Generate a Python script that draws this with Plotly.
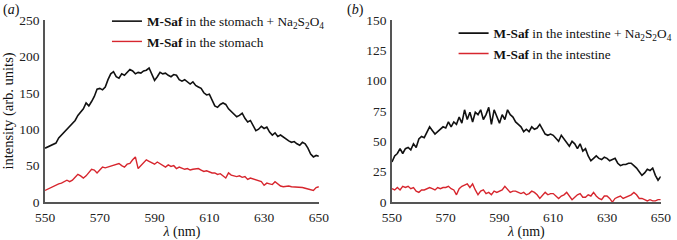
import plotly.graph_objects as go

wavelength = list(range(550, 651))

stomach_reduced = [74, 76, 78, 80, 81, 88, 92, 96, 100, 104,
                   107, 112, 119, 124, 128, 136, 132, 138, 145, 155,
                   156, 154, 158, 168, 176, 179, 172, 170, 176, 174,
                   178, 182, 180, 176, 178, 177, 180, 181, 184, 176,
                   167, 172, 178, 176, 177, 174, 172, 175, 174, 168,
                   166, 168, 165, 162, 165, 160, 158, 156, 150, 147,
                   148, 140, 132, 130, 134, 136, 134, 128, 124, 120,
                   117, 119, 122, 115, 110, 112, 104, 98, 100, 104,
                   101, 103, 96, 92, 95, 90, 92, 89, 86, 84,
                   82, 83, 80, 78, 82, 80, 74, 66, 62, 64, 63]

stomach = [16, 18, 20, 22, 24, 25, 26, 28, 30, 28,
           30, 34, 38, 36, 33, 36, 40, 45, 44, 40,
           44, 48, 47, 48, 50, 51, 52, 53, 50, 48,
           52, 53, 58, 62, 46, 50, 54, 58, 56, 54,
           52, 55, 53, 50, 48, 51, 49, 50, 46, 48,
           47, 45, 46, 44, 45, 46, 46, 44, 42, 43,
           41, 40, 40, 38, 39, 36, 33, 40, 37, 36,
           35, 36, 34, 35, 31, 33, 32, 30, 29, 28,
           23, 26, 25, 24, 28, 25, 22, 21, 22, 22,
           21, 21, 20, 21, 20, 19, 18, 17, 16, 20, 21]

intestine_reduced = [33, 38, 40, 44, 40, 44, 45, 43, 48, 45,
                     52, 54, 53, 58, 62, 59, 56, 58, 60, 62,
                     61, 66, 62, 66, 64, 70, 65, 76, 68, 74,
                     66, 74, 72, 76, 68, 72, 78, 64, 76, 70,
                     65, 72, 68, 76, 72, 70, 66, 64, 62, 58,
                     60, 58, 62, 60, 61, 64, 60, 56, 55, 56,
                     55, 52, 50, 55, 52, 48, 46, 50, 48, 44,
                     48, 42, 44, 38, 34, 36, 38, 36, 35, 37,
                     36, 34, 35, 36, 32, 30, 31, 31, 32, 32,
                     30, 28, 25, 22, 24, 27, 26, 28, 22, 18, 21]

intestine = [11, 10, 12, 10, 13, 12, 13, 11, 12, 9,
             8, 10, 10, 11, 12, 11, 10, 12, 11, 12,
             12, 13, 11, 10, 6, 11, 13, 14, 15, 12,
             15, 10, 6, 9, 10, 7, 8, 6, 9, 8,
             9, 10, 13, 10, 8, 9, 9, 8, 7, 8,
             6, 7, 9, 8, 6, 3, 6, 8, 6, 7,
             7, 5, 3, 5, 6, 8, 5, 2, 4, 6,
             7, 4, 4, 6, 5, 8, 5, 3, 2, 5,
             5, 3, 0, 3, 4, 5, 3, 4, 5, 6,
             8, 6, 3, 3, 2, 1, 2, 1, 1, 2, 2]

x_ticks = [550, 570, 590, 610, 630, 650]
y_ticks_a = [0, 50, 100, 150, 200, 250]
y_ticks_b = [0, 25, 50, 75, 100, 125, 150]

BLACK = "#111111"
RED = "#d7262e"
FONT = "Liberation Serif"

fig = go.Figure()
fig.add_trace(go.Scatter(x=wavelength, y=stomach_reduced, mode="lines",
                         line=dict(color=BLACK, width=1.6),
                         name="<b>M-Saf</b> in the stomach + Na<sub>2</sub>S<sub>2</sub>O<sub>4</sub>",
                         xaxis="x", yaxis="y", legend="legend"))
fig.add_trace(go.Scatter(x=wavelength, y=stomach, mode="lines",
                         line=dict(color=RED, width=1.4),
                         name="<b>M-Saf</b> in the stomach",
                         xaxis="x", yaxis="y", legend="legend"))
fig.add_trace(go.Scatter(x=wavelength, y=intestine_reduced, mode="lines",
                         line=dict(color=BLACK, width=1.6),
                         name="<b>M-Saf</b> in the intestine + Na<sub>2</sub>S<sub>2</sub>O<sub>4</sub>",
                         xaxis="x2", yaxis="y2", legend="legend2"))
fig.add_trace(go.Scatter(x=wavelength, y=intestine, mode="lines",
                         line=dict(color=RED, width=1.4),
                         name="<b>M-Saf</b> in the intestine",
                         xaxis="x2", yaxis="y2", legend="legend2"))

axis_common = dict(showgrid=False, zeroline=False, showline=True,
                   linecolor="#555555", linewidth=1.5, ticks="",
                   automargin=False,
                   tickfont=dict(family=FONT, size=13.5, color="#222222"))

fig.update_layout(
    width=677, height=240,
    margin=dict(l=0, r=0, t=0, b=0, autoexpand=False),
    paper_bgcolor="white", plot_bgcolor="white",
    font=dict(family=FONT, size=14, color="#111111"),
    xaxis=dict(domain=[0.0665, 0.471], range=[550, 650], tickvals=x_ticks,
               anchor="y", ticklabelstandoff=2,
               title=dict(text="<i>λ</i> (nm)", standoff=0,
                          font=dict(family=FONT, size=14)),
               **axis_common),
    yaxis=dict(domain=[0.158, 0.917], range=[0, 250], tickvals=y_ticks_a,
               anchor="x", ticklabelstandoff=1,
               title=dict(text="intensity (arb. units)", standoff=4,
                          font=dict(family=FONT, size=14.5)),
               **axis_common),
    xaxis2=dict(domain=[0.579, 0.976], range=[550, 650], tickvals=x_ticks,
                anchor="y2", ticklabelstandoff=2,
                title=dict(text="<i>λ</i> (nm)", standoff=0,
                           font=dict(family=FONT, size=14)),
                **axis_common),
    yaxis2=dict(domain=[0.158, 0.917], range=[0, 150], tickvals=y_ticks_b,
                anchor="x2", ticklabelstandoff=1, **axis_common),
    legend=dict(x=0.158, y=0.975, xanchor="left", yanchor="top",
                bgcolor="rgba(0,0,0,0)", font=dict(family=FONT, size=13.3),
                tracegroupgap=0, itemwidth=30),
    legend2=dict(x=0.67, y=0.925, xanchor="left", yanchor="top",
                 bgcolor="rgba(0,0,0,0)", font=dict(family=FONT, size=13.3),
                 tracegroupgap=0, itemwidth=30),
    annotations=[
        dict(text="(<i>a</i>)", x=0.002, y=0.958, xref="paper", yref="paper",
             xanchor="left", yanchor="middle", showarrow=False,
             font=dict(family=FONT, size=14)),
        dict(text="(<i>b</i>)", x=0.51, y=0.958, xref="paper", yref="paper",
             xanchor="left", yanchor="middle", showarrow=False,
             font=dict(family=FONT, size=14)),
    ],
)

fig.write_html("out.html",
               config={"displayModeBar": False},
               post_script="document.body.style.margin='0';document.body.style.padding='0';")
